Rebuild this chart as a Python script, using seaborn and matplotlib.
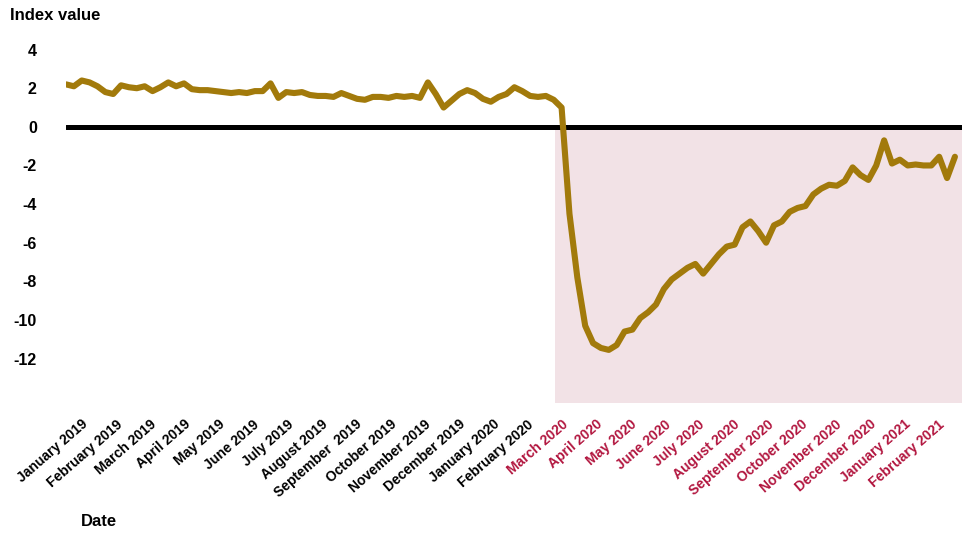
import numpy as np
import pandas as pd
import matplotlib
matplotlib.use("Agg")
import matplotlib.pyplot as plt
import seaborn as sns

# ---- data (weekly index values, Jan 2019 - early Mar 2021) ----
values_2019_2020 = [
    2.2, 2.1, 2.4, 2.3, 2.1, 1.8, 1.7, 2.15, 2.05, 2.0,
    2.1, 1.85, 2.05, 2.3, 2.1, 2.25, 1.95, 1.9, 1.9, 1.85,
    1.8, 1.75, 1.8, 1.75, 1.85, 1.85, 2.25, 1.5, 1.8, 1.75,
    1.8, 1.65, 1.6, 1.6, 1.55, 1.75, 1.6, 1.45, 1.4, 1.55,
    1.55, 1.5, 1.6, 1.55, 1.6, 1.5, 2.3, 1.7, 1.0, 1.35,
    1.7, 1.9, 1.75, 1.45, 1.3, 1.55, 1.7, 2.05, 1.85, 1.6,
    1.55, 1.6, 1.4, 1.0,
]
values_pandemic = [
    -4.5, -7.8, -10.3, -11.2, -11.45, -11.55, -11.3, -10.6, -10.5, -9.9,
    -9.6, -9.2, -8.4, -7.9, -7.6, -7.3, -7.1, -7.6, -7.1, -6.6,
    -6.2, -6.1, -5.2, -4.9, -5.4, -6.0, -5.1, -4.9, -4.4, -4.2,
    -4.1, -3.5, -3.2, -3.0, -3.05, -2.8, -2.1, -2.5, -2.75, -2.0,
    -0.7, -1.9, -1.7, -2.0, -1.95, -2.0, -2.0, -1.55, -2.65, -1.55,
]
month_labels = [
    "January 2019", "February 2019", "March 2019", "April 2019", "May 2019",
    "June 2019", "July 2019", "August 2019", "September  2019", "October 2019",
    "November 2019", "December 2019", "January 2020", "February 2020",
    "March 2020", "April 2020", "May 2020", "June 2020", "July 2020",
    "August 2020", "September 2020", "October 2020", "November 2020",
    "December 2020", "January 2021", "February 2021",
]
first_pandemic_label = "March 2020"

values = values_2019_2020 + values_pandemic
df = pd.DataFrame({"week": np.arange(len(values)), "index_value": values})

# ---- styling ----
LINE_C = "#A27A0B"
SHADE_C = "#F2E2E6"
RED_C = "#B2163F"
sns.set_theme(style="white")
plt.rcParams["font.family"] = ["Liberation Sans", "DejaVu Sans"]
plt.rcParams["font.weight"] = "bold"
plt.rcParams["text.color"] = "black"
plt.rcParams["xtick.color"] = "black"
plt.rcParams["ytick.color"] = "black"

fig = plt.figure(figsize=(9.69, 5.37), dpi=100)
ax = fig.add_axes([66 / 969, 1 - 403 / 537, (962 - 66) / 969, (403 - 38) / 537])

n = len(values)
ymin, ymax = -14.3, 4.6
shade_start = len(values_2019_2020) - 1.8
ax.fill_between([shade_start, n - 0.1], ymin, 0, color=SHADE_C, lw=0, zorder=0)
ax.axhline(0, color="black", lw=3.6, zorder=1)

sns.lineplot(data=df, x="week", y="index_value", ax=ax, color=LINE_C,
             lw=4.4, zorder=3, solid_joinstyle="round", solid_capstyle="round")

ax.set_xlim(0, n - 0.1)
ax.set_ylim(ymin, ymax)
ax.set_yticks([4, 2, 0, -2, -4, -6, -8, -10, -12])
ax.set_yticklabels(["4", "2", "0", "-2", "-4", "-6", "-8", "-10", "-12"],
                   fontsize=11.5, fontweight="bold", color="black")
ax.tick_params(axis="y", length=0, pad=21)

tick_pos = 2.55 + 4.357 * np.arange(len(month_labels))
ax.set_xticks(tick_pos)
ax.set_xticklabels(month_labels, rotation=41, ha="right", va="center",
                   rotation_mode="anchor", fontsize=10, fontweight="bold")
ax.tick_params(axis="x", length=0, pad=14)
red_from = month_labels.index(first_pandemic_label)
for i, t in enumerate(ax.get_xticklabels()):
    t.set_color(RED_C if i >= red_from else "black")

for s in ax.spines.values():
    s.set_visible(False)
ax.set_xlabel("")
ax.set_ylabel("")

fig.text(10 / 969, 1 - 15 / 537, "Index value", fontsize=12, fontweight="bold",
         ha="left", va="center", color="black")
fig.text(81 / 969, 1 - 522 / 537, "Date", fontsize=12, fontweight="bold",
         ha="left", va="center", color="black")

fig.savefig("out.png", dpi=100, facecolor="white")
